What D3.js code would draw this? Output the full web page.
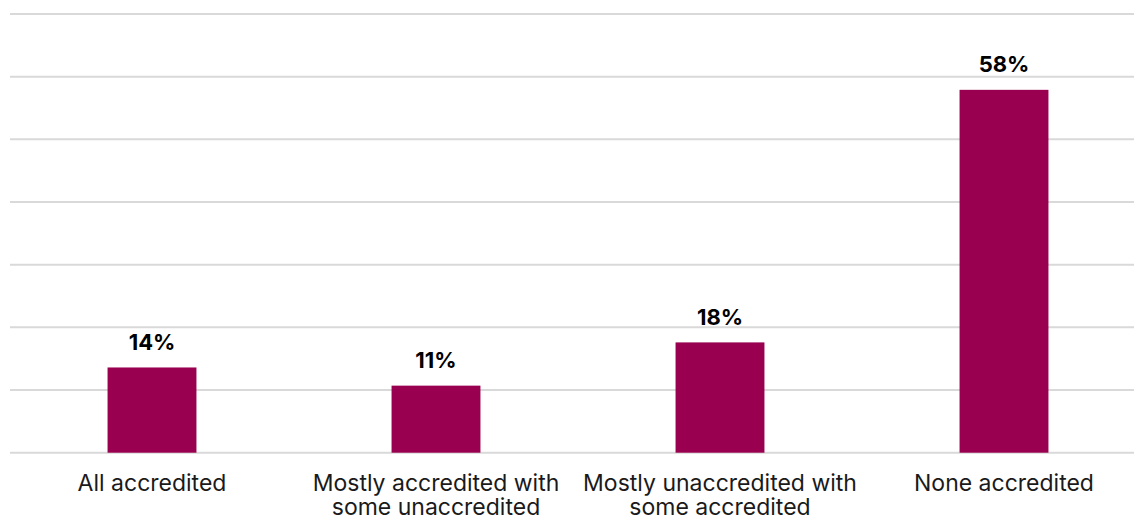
<!DOCTYPE html>
<html>
<head>
<meta charset="utf-8">
<script src="https://cdn.jsdelivr.net/npm/d3@7"></script>
<style>
  html, body { margin: 0; padding: 0; background: #fff; }
  svg { display: block; }
</style>
</head>
<body>
<svg id="chart" width="1134" height="517"></svg>
<script>
const categories = [
  ["All accredited"],
  ["Mostly accredited with", "some unaccredited"],
  ["Mostly unaccredited with", "some accredited"],
  ["None accredited"]
];
const values = [13.6, 10.7, 17.6, 57.9];
const valueLabels = ["14%", "11%", "18%", "58%"];
const yTicks = [0, 10, 20, 30, 40, 50, 60, 70];

const svg = d3.select("#chart");
const W = 1134, H = 517;
const plotLeft = 10, plotRight = 1146, plotTop = 14, plotBottom = 452.7;

const x = d3.scaleBand()
  .domain(d3.range(categories.length))
  .range([plotLeft, plotRight])
  .paddingInner(0.687)
  .paddingOuter(0.3435);

const y = d3.scaleLinear().domain([0, 70]).range([plotBottom, plotTop]);

// gridlines
svg.append("g")
  .selectAll("line")
  .data(yTicks)
  .join("line")
  .attr("x1", plotLeft)
  .attr("x2", W)
  .attr("y1", d => y(d))
  .attr("y2", d => y(d))
  .attr("stroke", "#d9d9d9")
  .attr("stroke-width", 2);

// bars
svg.append("g")
  .selectAll("rect")
  .data(values)
  .join("rect")
  .attr("x", (d, i) => x(i))
  .attr("width", x.bandwidth())
  .attr("y", d => y(d))
  .attr("height", d => y(0) - y(d))
  .attr("fill", "#99004f");

// value labels
svg.append("g")
  .selectAll("text")
  .data(values)
  .join("text")
  .attr("x", (d, i) => x(i) + x.bandwidth() / 2)
  .attr("y", d => y(d) - 17.5)
  .attr("text-anchor", "middle")
  .attr("font-family", "Inter, 'Noto Sans', sans-serif")
  .attr("font-weight", "bold")
  .attr("font-size", 22)
  .attr("fill", "#000")
  .text((d, i) => valueLabels[i]);

// category labels
const cat = svg.append("g")
  .selectAll("text")
  .data(categories)
  .join("text")
  .attr("x", (d, i) => x(i) + x.bandwidth() / 2)
  .attr("y", 490.5)
  .attr("text-anchor", "middle")
  .attr("font-family", "Inter, 'Noto Sans', sans-serif")
  .attr("font-size", 23)
  .attr("fill", "#1a1a1a");
cat.selectAll("tspan")
  .data(d => d)
  .join("tspan")
  .attr("x", function () { return d3.select(this.parentNode).attr("x"); })
  .attr("dy", (d, i) => i === 0 ? 0 : 24.5)
  .text(d => d);
</script>
</body>
</html>
